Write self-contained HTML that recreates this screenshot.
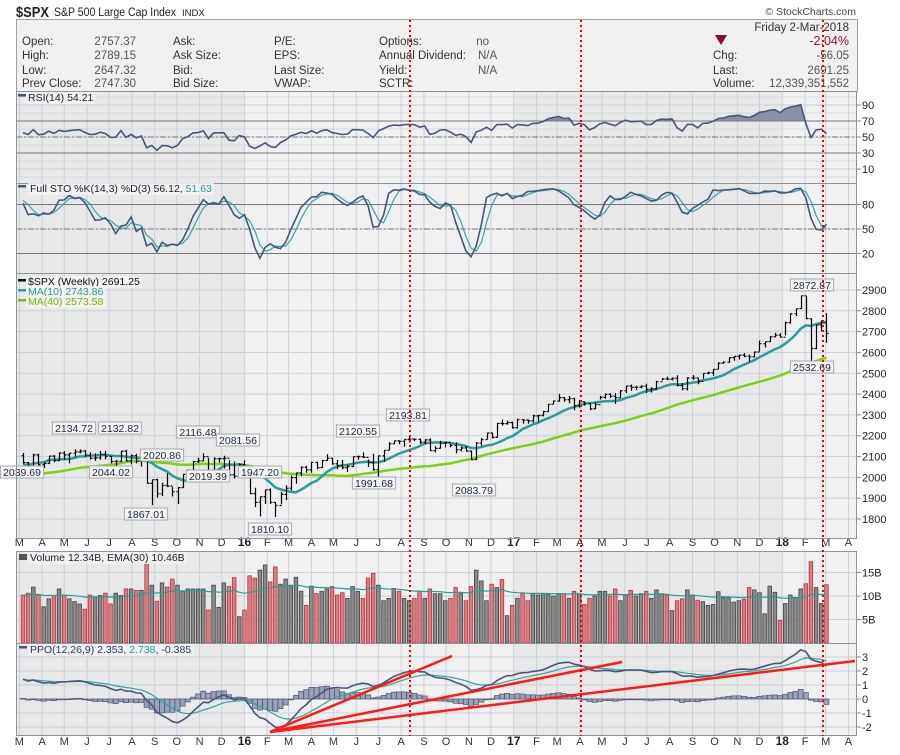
<!DOCTYPE html>
<html><head><meta charset="utf-8"><title>$SPX Weekly</title>
<style>
html,body{margin:0;padding:0;background:#fff;}
body{width:900px;height:750px;overflow:hidden;font-family:"Liberation Sans",sans-serif;}
svg text{font-family:"Liberation Sans",sans-serif;}
</style></head>
<body>
<svg id="chart" width="900" height="750" viewBox="0 0 900 750" xmlns="http://www.w3.org/2000/svg">
  <text x="16" y="17" font-size="15" font-weight="bold" fill="#222" textLength="33" lengthAdjust="spacingAndGlyphs">$SPX</text>
  <text x="54" y="16" font-size="11.5" fill="#222" textLength="122" lengthAdjust="spacingAndGlyphs">S&amp;P 500 Large Cap Index</text>
  <text x="182" y="16" font-size="9.5" fill="#222">INDX</text>
  <text x="856" y="15" font-size="10.5" fill="#444" text-anchor="end">© StockCharts.com</text>
  <g>
    <rect x="16.5" y="19.5" width="841" height="72" fill="#f0f0f0" stroke="#a0a0a0"/>
    <g font-size="11.5" fill="#333">
      <text x="22" y="45">Open:</text><text x="136" y="45" text-anchor="end" fill="#555">2757.37</text>
      <text x="22" y="59">High:</text><text x="136" y="59" text-anchor="end" fill="#555">2789.15</text>
      <text x="22" y="74">Low:</text><text x="136" y="74" text-anchor="end" fill="#555">2647.32</text>
      <text x="22" y="87">Prev Close:</text><text x="136" y="87" text-anchor="end" fill="#555">2747.30</text>
      <text x="173" y="45">Ask:</text><text x="173" y="59">Ask Size:</text><text x="173" y="74">Bid:</text><text x="173" y="87">Bid Size:</text>
      <text x="274" y="45">P/E:</text><text x="274" y="59">EPS:</text><text x="274" y="74">Last Size:</text><text x="274" y="87">VWAP:</text>
      <text x="379" y="45">Options:</text><text x="379" y="59">Annual Dividend:</text><text x="379" y="74">Yield:</text><text x="379" y="87">SCTR:</text>
      <text x="489" y="45" text-anchor="end" fill="#555">no</text><text x="478" y="59" fill="#555">N/A</text><text x="478" y="74" fill="#555">N/A</text>
      <text x="849" y="31" text-anchor="end">Friday  2-Mar-2018</text>
      <text x="849" y="45" text-anchor="end" fill="#a01030" font-size="12.5">-2.04%</text>
      <text x="713" y="59">Chg:</text><text x="849" y="59" text-anchor="end" fill="#555">-56.05</text>
      <text x="713" y="74">Last:</text><text x="849" y="74" text-anchor="end" fill="#555">2691.25</text>
      <text x="713" y="87">Volume:</text><text x="849" y="87" text-anchor="end" fill="#555">12,339,351,552</text>
    </g>
    <polygon points="715,35 727,35 721,45" fill="#8b0a2a"/>
  </g>
  <g id="layer"></g>
</svg>
<script>
// ---- data ----
const warmCloses=[1880,1878,1900,1912,1924,1950,1936,1962,1985,1967,1978,1978,1925,1931,1955,1988,1997,2007,1985,2010,1982,1967,1906,1886,1964,2018,2031,2039,2063,2067,2075,2002,2070,2088,2058,2044,2019,2051,1994,2055,2096,2110,2104];
const closes=[2071,2053,2108,2061, 2067,2102,2081,2117, 2108,2116,2122,2126,2107, 2092,2094,2110,2101, 2076,2077,2126,2079,2104, 2077,2091,1971,1989, 1921,1961,1958,1931, 1951,2014,2033,2075,2079, 2099,2023,2089,2090, 2092,2012,2005,2061,2044,
1922,1880,1907,1940, 1880,1865,1918,1948, 1999,2022,2049,2036, 2072,2047,2081,2092,2065, 2057,2047,2052,2099, 2099,2096,2071,2037, 2103,2130,2161,2175,2173, 2182,2184,2183,2169, 2180,2128,2139,2164,2168, 2153,2133,2141,2126, 2085,2164,2182,2213, 2192,2259,2258,2263,2239,
2277,2275,2271,2295, 2297,2316,2351,2367, 2383,2373,2378,2344,2363, 2356,2329,2349,2384, 2399,2390,2382,2416, 2439,2432,2433,2438,2423, 2425,2459,2473,2472, 2476,2441,2426,2477, 2477,2461,2500,2502,2519, 2549,2553,2575,2581, 2587,2582,2579,2602, 2642,2652,2675,2683,2673,
2743,2786,2810,2872, 2762,2619,2732,2747, 2691];
const highs=[2117,2074,2114,2114, 2072,2103,2107,2120, 2126,2117,2135,2134,2132, 2121,2115,2127,2127, 2102,2085,2128,2133,2110, 2113,2102,2101,1989, 1993,1975,2021,1953, 1953,2017,2039,2079,2094, 2116,2094,2097,2094, 2104,2082,2076,2067,2082,
2038,1950,1908,1940, 1947,1881,1930,1962, 2009,2022,2052,2056, 2075,2075,2083,2111,2095, 2084,2084,2062,2100, 2105,2120,2086,2113, 2104,2132,2169,2175,2178, 2182,2194,2187,2187, 2184,2187,2150,2175,2172, 2162,2169,2148,2150, 2129,2170,2189,2214, 2214,2260,2278,2273,2268,
2282,2279,2278,2300, 2300,2320,2352,2368, 2401,2386,2391,2382,2371, 2366,2356,2361,2392, 2403,2404,2405,2419, 2440,2446,2440,2442,2450, 2433,2464,2477,2484, 2480,2490,2453,2481, 2491,2475,2500,2508,2520, 2552,2558,2575,2582, 2588,2597,2590,2604, 2657,2651,2679,2694,2692,
2748,2787,2810,2873, 2870,2763,2733,2754, 2789];
const lows=[2066,2040,2045,2045, 2045,2066,2073,2078, 2085,2067,2099,2115,2099, 2085,2079,2085,2087, 2067,2044,2075,2077,2063, 2067,2052,1971,1867, 1903,1910,1953,1908, 1872,1951,1990,2017,2069, 2080,2022,2019,2070, 2043,2012,1994,2005,2044,
1918,1857,1812,1872, 1872,1810,1871,1891, 1937,1969,2005,2022, 2022,2039,2047,2080,2061, 2039,2039,2026,2050, 2085,2094,2050,2032, 1992,2074,2131,2159,2159, 2147,2168,2174,2160, 2157,2128,2120,2139,2145, 2145,2115,2124,2123, 2084,2084,2152,2184, 2187,2192,2248,2253,2233,
2233,2258,2258,2263, 2267,2293,2316,2353, 2363,2363,2356,2322,2335, 2344,2322,2328,2374, 2378,2381,2353,2380, 2405,2416,2419,2428,2405, 2407,2421,2465,2467, 2465,2437,2418,2417, 2468,2447,2474,2495,2488, 2520,2545,2550,2560, 2566,2577,2557,2575, 2605,2624,2652,2673,2673,
2682,2738,2775,2809, 2759,2533,2615,2702, 2647];
const volumes=[10.2,10.6,11.9,10.2, 7.7,9.4,10.1,11.5, 10.2,9.4,8.8,8.3,7.2, 10.2,9.8,10.1,10.6, 8.3,10.6,10.1,11.5,11.5, 11.2,11.2,17.0,12.3, 8.9,12.8,11.9,13.6, 12.3,11.0,11.5,11.5,11.5, 11.5,7.0,12.3,7.6, 12.8,12.0,13.9,5.6,7.0,
14.3,13.8,15.5,16.6, 13.0,16.2,12.5,13.6, 12.3,14.0,11.0,8.0, 12.1,10.5,11.0,11.5,12.0, 10.2,10.7,9.5,12.0, 11.0,9.5,13.8,14.8, 12.3,9.0,9.5,11.6,11.0, 9.5,9.0,9.5,11.0, 9.5,11.5,10.5,10.5,9.0, 9.5,11.8,10.5,9.0, 12.0,15.5,13.2,9.0, 12.5,11.8,13.5,5.8,8.0,
9.5,10.5,9.0,10.5, 10.2,10.5,10.3,10.0, 10.5,10.5,9.5,11.0,10.5, 8.2,9.5,10.0,11.0, 11.0,10.0,11.5,9.0, 10.2,11.2,10.0,10.5,11.0, 9.5,11.3,10.5,10.2, 6.9,9.0,9.4,11.3, 10.2,9.1,8.8,8.0,8.2, 10.9,9.6,9.6,8.7, 9.0,9.3,11.8,11.3, 10.7,6.2,12.1,10.8,4.8,
8.4,10.2,9.7,11.5, 12.6,17.3,11.8,8.4, 12.4];
const priceTicks=[1800,1900,2000,2100,2200,2300,2400,2500,2600,2700,2800,2900];
const rsiTicks=[90,70,50,30,10];
const stoTicks=[80,50,20];
const volTicks=[5,10,15];
const ppoTicks=[3,2,1,0,-1,-2];
const peakLabels=[["2039.69",22,472],["2134.72",74,428],["2132.82",120,428],["2044.02",111,472],["2020.86",162,455],["1867.01",146,514],["2116.48",198,432],["2019.39",208,476],["2081.56",238,440],["1947.20",260,472],["1810.10",270,529],["2120.55",358,431],["1991.68",374,483],["2193.81",408,415],["2083.79",474,490],["2872.87",812,285],["2532.69",812,367]];

// ---- scales ----
const L=16,R=857;
const T0=new Date(2015,2,6).getTime();
function wk(d){return (d.getTime()-T0)/604800000;}
function X(i){return 23+i*5.15;}
const yP=p=>519-(p-1800)*0.2082;
const yR=v=>137-(v-50)*0.8;
const yS=v=>229-(v-50)*0.816;
const yV=v=>643-v*4.7;
const yM=v=>699-v*14;
const panels={rsi:[91,183],sto:[183,273],price:[273,538],vol:[551,643],ppo:[643,735]};

// ---- indicators ----
const W=warmCloses.length;
const allC=warmCloses.concat(closes);
const allH=warmCloses.map(c=>c+10).concat(highs);
const allLo=warmCloses.map(c=>c-10).concat(lows);
function sma(a,n){return a.map((v,i)=>{if(i<n-1)return null;let s=0;for(let k=i-n+1;k<=i;k++)s+=a[k];return s/n;});}
function ema(a,n){const k=2/(n+1);let e=null;return a.map(v=>{if(v==null)return null;e=(e==null)?v:e+(v-e)*k;return e;});}
const ma10=sma(allC,10).slice(W), ma40=sma(allC,40).slice(W);
let ag=0,al=0;const rsiAll=allC.map((c,i)=>{if(i==0)return 50;const d=c-allC[i-1];const g=Math.max(d,0),l=Math.max(-d,0);if(i<=14){ag+=g/14;al+=l/14;}else{ag=(ag*13+g)/14;al=(al*13+l)/14;}return al==0?100:100-100/(1+ag/al);});
const rsi=rsiAll.slice(W);
const fastK=allC.map((c,i)=>{const s=Math.max(0,i-13);const hh=Math.max(...allH.slice(s,i+1)),ll=Math.min(...allLo.slice(s,i+1));return hh==ll?50:(c-ll)/(hh-ll)*100;});
const kS=sma(fastK,3);const dS=sma(kS.map(v=>v==null?50:v),3);
const stoK=kS.slice(W),stoD=dS.slice(W);
const e12=ema(allC,12),e26=ema(allC,26);
const ppoAll=allC.map((c,i)=>(e12[i]-e26[i])/e26[i]*100);
const sigAll=ema(ppoAll,9);
const ppo=ppoAll.slice(W),sig=sigAll.slice(W);
const volEma=ema(volumes,30);

// ---- drawing ----
const NS="http://www.w3.org/2000/svg";
const layer=document.getElementById('layer');
function mk(tag,attrs,parent){const e=document.createElementNS(NS,tag);for(const k in attrs)e.setAttribute(k,attrs[k]);(parent||layer).appendChild(e);return e;}

const defs=mk('defs',{});
for(const p in panels){const c=mk('clipPath',{id:'clip-'+p},defs);mk('rect',{x:L,y:panels[p][0],width:R-L,height:panels[p][1]-panels[p][0]},c);}

const yearStarts=[new Date(2016,0,1),new Date(2017,0,1),new Date(2018,0,1)].map(d=>X(wk(d)));
const bandX=[L,yearStarts[0],yearStarts[1],yearStarts[2],R];
for(const p in panels){
  const [t,b]=panels[p];
  for(let k=0;k<4;k++){
    const r=mk('rect',{x:bandX[k],y:t,width:bandX[k+1]-bandX[k],height:b-t,fill:(k%2==0)?'#e8e8e8':'#f0f0f0'});
    
    
  }
}
const months=[];
for(let y=2015,m=2;y<2018||(y==2018&&m<=3);){months.push(new Date(y,m,1));m++;if(m>11){m=0;y++;}}
const mNames='JFMAMJJASOND';
months.forEach(d=>{
  const x=X(wk(d));
  for(const p in panels){
    if(x<L||x>R)continue;
    const g=mk('line',{x1:x,x2:x,y1:panels[p][0],y2:panels[p][1],stroke:'#c9d0d8','stroke-width':1});
    
    
  }
  const jan=d.getMonth()==0;
  const lab=jan?String(d.getFullYear()).slice(2):mNames[d.getMonth()];
  [546,745].forEach(yy=>{
    const t=mk('text',{x:x,y:yy,'font-size':jan?12:11,'font-weight':jan?'bold':'normal',fill:jan?'#223':'#333','text-anchor':'middle'});
    t.textContent=lab;
    
    
  });
});
function hgrid(panel,ticks,yf,fmt){
  ticks.forEach(v=>{
    const y=yf(v);
    const g=mk('line',{x1:L,x2:R,y1:y,y2:y,stroke:'#c9d0d8','stroke-width':1});
    
    
    const tk=mk('line',{x1:R,x2:R+4,y1:y,y2:y,stroke:'#888'});
    
    
    const t=mk('text',{x:R+5,y:y+4,'font-size':11,fill:'#222'});
    t.textContent=fmt(v);
    
    
  });
}
hgrid('price',priceTicks,yP,v=>v);
hgrid('rsi',rsiTicks,yR,v=>v);
hgrid('sto',stoTicks,yS,v=>v);
hgrid('vol',volTicks,yV,v=>v+'B');
hgrid('ppo',ppoTicks,yM,v=>v);
[0,20,40,60,80,100].forEach(v=>{const g=mk('line',{x1:L,x2:R,y1:yR(v),y2:yR(v),stroke:'#d3d8de'});});

function pathOf(arr,yf){let d='';arr.forEach((v,i)=>{if(v==null)return;d+=(d?'L':'M')+X(i).toFixed(1)+','+yf(v).toFixed(1);});return d;}

const rG=mk('g',{'clip-path':'url(#clip-rsi)'});
let fill='M'+X(0)+','+yR(70);rsi.forEach((v,i)=>{fill+='L'+X(i).toFixed(1)+','+yR(Math.max(v,70)).toFixed(1);});fill+='L'+X(rsi.length-1)+','+yR(70)+'Z';
const rf=mk('path',{d:fill,fill:'#8890a3'},rG);


[[70,'#777',''],[30,'#777',''],[50,'#777','6,2,2,2']].forEach(a=>{const l=mk('line',{x1:L,x2:R,y1:yR(a[0]),y2:yR(a[0]),stroke:a[1],'stroke-dasharray':a[2]},rG);});
const rl=mk('path',{d:pathOf(rsi,yR),fill:'none',stroke:'#48557a','stroke-width':1.6},rG);



const sG=mk('g',{'clip-path':'url(#clip-sto)'});
[[80,''],[20,''],[50,'6,2,2,2']].forEach(a=>{const l=mk('line',{x1:L,x2:R,y1:yS(a[0]),y2:yS(a[0]),stroke:'#777','stroke-dasharray':a[1]},sG);});
const sd=mk('path',{d:pathOf(stoD,yS),fill:'none',stroke:'#3aa3a3','stroke-width':1.2},sG);


const sk=mk('path',{d:pathOf(stoK,yS),fill:'none',stroke:'#48557a','stroke-width':1.6},sG);



const pG=mk('g',{'clip-path':'url(#clip-price)'});
const m40=mk('path',{d:pathOf(ma40,yP),fill:'none',stroke:'#7fd011','stroke-width':2.5},pG);


const m10=mk('path',{d:pathOf(ma10,yP),fill:'none',stroke:'#2e9b9b','stroke-width':2.5},pG);


closes.forEach((c,i)=>{
  const o=i==0?warmCloses[W-1]:closes[i-1];const x=Math.round(X(i))+0.5;
  const b=mk('path',{d:`M${x},${yP(highs[i]).toFixed(1)}V${yP(lows[i]).toFixed(1)}M${x-2},${yP(o).toFixed(1)}H${x}M${x},${yP(c).toFixed(1)}H${x+2}`,stroke:'#000','stroke-width':1.2,fill:'none'},pG);
  
  
});
peakLabels.forEach(a=>{
  const w=a[0].length*5.6+4;
  const g=mk('g',{});
  
  
  mk('rect',{x:a[1]-w/2,y:a[2]-6,width:w,height:12,fill:'#f4f4f4',stroke:'#a8a8a8'},g);
  const t=mk('text',{x:a[1],y:a[2]+4,'font-size':10.5,fill:'#1c2a44','text-anchor':'middle'},g);
  t.textContent=a[0];
});

const vG=mk('g',{'clip-path':'url(#clip-vol)'});
volumes.forEach((v,i)=>{
  const prev=i==0?warmCloses[W-1]:closes[i-1];const down=closes[i]<prev;
  const r=mk('rect',{x:X(i)-1.8,y:yV(v),width:3.6,height:643-yV(v),fill:down?'#d47f87':'#8a8a8a',stroke:down?'#c0303c':'#444','stroke-width':0.8},vG);
  
  
});
const ve=mk('path',{d:pathOf(volEma,yV),fill:'none',stroke:'#2a9d96','stroke-width':1.2},vG);



const mG=mk('g',{'clip-path':'url(#clip-ppo)'});
ppo.forEach((v,i)=>{
  const h=v-sig[i];const y0=yM(0),y1=yM(h);
  const r=mk('rect',{x:X(i)-2.5,y:Math.min(y0,y1),width:5,height:Math.max(0.8,Math.abs(y1-y0)),fill:'#9ba2b8',stroke:'#4a5472','stroke-width':0.7},mG);
  
  
});
const ms=mk('path',{d:pathOf(sig,yM),fill:'none',stroke:'#35a39a','stroke-width':1.2},mG);


const ml=mk('path',{d:pathOf(ppo,yM),fill:'none',stroke:'#48557a','stroke-width':1.6},mG);


[[270,732,452,656],[270,732,622,662],[270,732,855,661]].forEach(a=>{
  const l=mk('line',{x1:a[0],y1:a[1],x2:a[2],y2:a[3],stroke:'#ff1a1a','stroke-width':2.5});
  
  
});

for(const p in panels){const r=mk('rect',{x:L+0.5,y:panels[p][0]+0.5,width:R-L-1,height:panels[p][1]-panels[p][0],fill:'none',stroke:'#8c949c'});}

[410,581,823].forEach(x=>{const l=mk('line',{x1:x,x2:x,y1:20,y2:736,stroke:'#ee0000','stroke-width':2,'stroke-dasharray':'2,3'});});

function legend(x,y,parts,name){
  const t=mk('text',{x:x,y:y,'font-size':10.5});
  
  
  parts.forEach(p=>{const s=mk('tspan',{fill:p[1]},t);s.textContent=p[0];});
  const bb=t.getBBox();const bg=mk('rect',{x:bb.x-2,y:bb.y,width:bb.width+4,height:bb.height,fill:'#f2f2f2','fill-opacity':0.85});
  layer.insertBefore(bg,t);
}
legend(28,101,[['RSI(14) 54.21','#223']],'rsi-legend');
legend(30,192,[['Full STO %K(14,3) %D(3) 56.12, ','#223'],['51.63','#2a9d96']],'sto-legend');
legend(28,285,[['$SPX (Weekly) 2691.25','#111']],'price-legend');
legend(28,295,[['MA(10) 2743.86','#2a9d96']],'ma10-legend');
legend(28,305,[['MA(40) 2573.58','#6cc000']],'ma40-legend');
legend(30,561,[['Volume 12.34B, EMA(30) 10.46B','#223']],'volume-legend');
legend(30,653,[['PPO(12,26,9) 2.353, ','#2a3a5a'],['2.738','#2a9d96'],[', -0.385','#2a3a5a']],'ppo-legend');
[[18,94,'#48557a',97],[18,185,'#48557a',188],[18,278,'#111',282],[18,289,'#2a9d96',292],[18,299,'#6cc000',302],[19,553,'#555',557],[19,648,'#48557a',649]].forEach(a=>{const r=mk('rect',{x:a[0],y:a[3]-3,width:8,height:a[0]==19&&a[1]==553?6:2.5,fill:a[2]});});
</script>
</body></html>
